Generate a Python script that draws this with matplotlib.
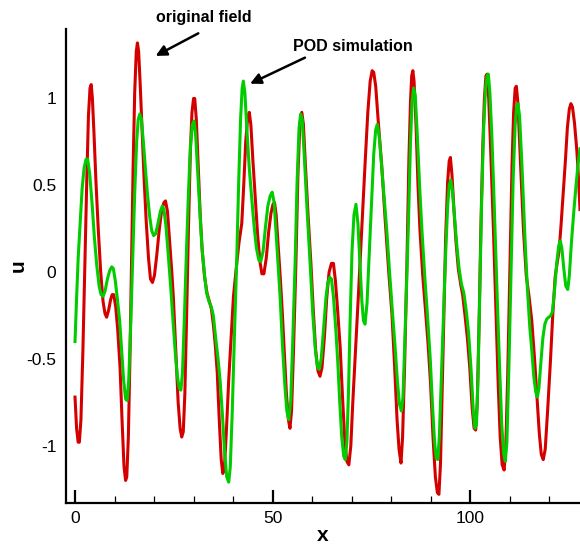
import matplotlib
matplotlib.use("Agg")
import matplotlib.pyplot as plt
from matplotlib.ticker import MultipleLocator

# original field (red)
red_x = [0.0, 0.4, 0.8, 1.1, 1.5, 2.0, 2.5, 3.0, 3.4, 3.8, 4.1, 4.4, 4.8, 5.3, 5.9, 6.5, 7.1, 7.6, 8.0,
         8.5, 9.0, 9.4, 9.8, 10.3, 10.8, 11.4, 11.9, 12.4, 12.8, 13.1, 13.5, 13.9, 14.3, 14.7, 15.1,
         15.5, 15.8, 16.1, 16.5, 17.0, 17.5, 18.0, 18.6, 19.1, 19.6, 20.1, 20.7, 21.3, 21.9, 22.5, 22.9,
         23.4, 24.0, 24.5, 24.9, 25.5, 26.1, 26.6, 27.0, 27.4, 27.8, 28.2, 28.7, 29.2, 29.6, 30.0, 30.3,
         30.7, 31.2, 31.7, 32.2, 32.8, 33.4, 34.0, 34.5, 35.0, 35.5, 36.0, 36.5, 37.0, 37.4, 37.8, 38.3,
         38.9, 39.5, 40.1, 40.8, 41.5, 42.2, 42.7, 43.2, 43.7, 44.1, 44.5, 45.0, 45.6, 46.2, 46.8, 47.3,
         47.8, 48.4, 49.0, 49.6, 50.1, 50.5, 50.9, 51.5, 52.0, 52.5, 53.0, 53.5, 54.0, 54.4, 54.8, 55.3,
         55.9, 56.4, 56.9, 57.4, 57.8, 58.3, 59.0, 59.7, 60.3, 60.9, 61.5, 62.0, 62.5, 63.1, 63.7, 64.3,
         64.9, 65.4, 65.9, 66.4, 67.1, 67.7, 68.3, 68.8, 69.3, 69.8, 70.3, 71.0, 71.7, 72.5, 73.4, 74.1,
         74.7, 75.2, 75.6, 76.1, 76.8, 77.6, 78.5, 79.4, 80.2, 80.9, 81.5, 82.0, 82.5, 82.9, 83.4, 84.0,
         84.5, 84.9, 85.2, 85.5, 85.8, 86.3, 86.8, 87.3, 88.0, 88.7, 89.4, 90.0, 90.6, 91.2, 91.7, 92.1,
         92.5, 92.9, 93.3, 93.8, 94.3, 94.7, 95.0, 95.4, 95.9, 96.4, 97.0, 97.6, 98.1, 98.7, 99.3, 99.9,
         100.5, 101.0, 101.4, 101.8, 102.3, 102.7, 103.2, 103.6, 104.0, 104.3, 104.7, 105.2, 105.9,
         106.6, 107.1, 107.6, 108.1, 108.6, 109.0, 109.5, 110.1, 110.6, 111.0, 111.4, 111.7, 112.1,
         112.7, 113.5, 114.2, 114.9, 115.6, 116.3, 116.9, 117.5, 118.0, 118.5, 119.0, 119.6, 120.3,
         120.9, 121.5, 122.0, 122.5, 123.0, 123.6, 124.1, 124.6, 125.1, 125.5, 125.9, 126.4, 127.0,
         127.4, 127.8]
red_u = [-0.72, -0.90, -0.98, -0.98, -0.85, -0.45, 0.05, 0.55, 0.90, 1.06, 1.08, 1.00, 0.80, 0.52, 0.24,
         0.00, -0.17, -0.24, -0.26, -0.22, -0.16, -0.13, -0.13, -0.20, -0.33, -0.55, -0.85, -1.12, -1.20,
         -1.18, -0.95, -0.50, 0.05, 0.60, 1.03, 1.27, 1.32, 1.27, 1.08, 0.80, 0.53, 0.30, 0.08, -0.04,
         -0.06, -0.02, 0.10, 0.24, 0.35, 0.40, 0.41, 0.35, 0.16, 0.00, -0.15, -0.45, -0.75, -0.90, -0.95,
         -0.92, -0.70, -0.30, 0.24, 0.70, 0.92, 1.00, 1.00, 0.88, 0.60, 0.32, 0.12, -0.03, -0.12, -0.17,
         -0.21, -0.30, -0.42, -0.58, -0.85, -1.08, -1.16, -1.13, -0.92, -0.62, -0.38, -0.14, 0.02, 0.17,
         0.28, 0.50, 0.75, 0.89, 0.92, 0.85, 0.65, 0.43, 0.22, 0.06, -0.01, -0.01, 0.08, 0.23, 0.34, 0.39,
         0.40, 0.33, 0.12, -0.05, -0.25, -0.48, -0.70, -0.85, -0.90, -0.80, -0.45, 0.05, 0.55, 0.85, 0.92,
         0.85, 0.62, 0.32, 0.05, -0.22, -0.45, -0.57, -0.60, -0.55, -0.38, -0.15, 0.00, 0.05, 0.05, -0.05,
         -0.20, -0.43, -0.72, -0.98, -1.09, -1.11, -1.00, -0.75, -0.45, -0.14, 0.22, 0.62, 0.92, 1.10,
         1.16, 1.15, 1.07, 0.85, 0.62, 0.30, 0.00, -0.24, -0.55, -0.85, -1.02, -1.10, -0.95, -0.55, 0.05,
         0.65, 0.98, 1.13, 1.16, 1.10, 0.85, 0.50, 0.24, -0.02, -0.22, -0.43, -0.65, -0.95, -1.18, -1.27,
         -1.28, -1.10, -0.70, -0.28, 0.20, 0.52, 0.64, 0.66, 0.56, 0.36, 0.18, 0.02, -0.07, -0.13, -0.25,
         -0.38, -0.55, -0.78, -0.90, -0.91, -0.75, -0.25, 0.24, 0.72, 1.00, 1.13, 1.14, 1.00, 0.70, 0.24,
         -0.28, -0.65, -0.95, -1.11, -1.14, -1.02, -0.60, 0.05, 0.62, 0.92, 1.06, 1.07, 0.97, 0.65, 0.24,
         -0.02, -0.14, -0.28, -0.50, -0.72, -0.93, -1.05, -1.08, -1.02, -0.80, -0.52, -0.25, -0.03, 0.05,
         0.12, 0.27, 0.47, 0.64, 0.83, 0.94, 0.97, 0.95, 0.86, 0.70, 0.55, 0.36]

# POD simulation (green)
pod_x = [0.0, 0.4, 0.8, 1.3, 1.8, 2.3, 2.8, 3.2, 3.7, 4.3, 4.9, 5.5, 6.1, 6.6, 7.1, 7.6, 8.2, 8.8, 9.3,
         9.7, 10.2, 10.7, 11.3, 11.8, 12.3, 12.8, 13.2, 13.6, 14.1, 14.6, 15.1, 15.6, 16.0, 16.4, 16.8,
         17.3, 17.8, 18.3, 18.9, 19.4, 19.9, 20.4, 21.0, 21.6, 22.1, 22.5, 23.0, 23.6, 24.2, 24.8, 25.4,
         25.9, 26.4, 26.8, 27.2, 27.7, 28.2, 28.7, 29.2, 29.7, 30.1, 30.5, 31.0, 31.6, 32.1, 32.7, 33.3,
         33.9, 34.5, 35.0, 35.6, 36.2, 36.7, 37.3, 37.9, 38.4, 38.9, 39.3, 39.8, 40.3, 40.9, 41.4, 41.9,
         42.3, 42.6, 43.0, 43.5, 44.1, 44.7, 45.3, 45.9, 46.5, 47.0, 47.6, 48.2, 48.8, 49.4, 49.9, 50.4,
         50.9, 51.4, 51.9, 52.5, 53.1, 53.6, 54.1, 54.6, 55.1, 55.7, 56.2, 56.7, 57.1, 57.5, 58.0, 58.7,
         59.5, 60.2, 60.8, 61.3, 61.8, 62.3, 62.9, 63.5, 64.0, 64.5, 64.9, 65.4, 66.0, 66.5, 67.0, 67.5,
         68.0, 68.4, 68.8, 69.2, 69.6, 70.1, 70.6, 71.1, 71.6, 72.1, 72.6, 73.0, 73.4, 73.9, 74.5, 75.1,
         75.6, 76.1, 76.5, 77.0, 77.7, 78.4, 78.9, 79.6, 80.3, 81.0, 81.6, 82.1, 82.6, 83.0, 83.5, 84.0,
         84.4, 84.9, 85.3, 85.7, 86.1, 86.6, 87.2, 87.8, 88.5, 89.2, 89.9, 90.5, 91.0, 91.4, 91.8, 92.2,
         92.7, 93.2, 93.7, 94.3, 94.7, 95.1, 95.5, 96.0, 96.6, 97.2, 97.8, 98.4, 99.0, 99.6, 100.2, 100.8,
         101.2, 101.6, 102.0, 102.5, 102.9, 103.4, 103.9, 104.3, 104.6, 105.0, 105.5, 106.0, 106.5,
         107.0, 107.5, 108.0, 108.5, 108.9, 109.3, 109.8, 110.4, 110.9, 111.4, 111.8, 112.1, 112.5,
         113.1, 113.9, 114.5, 115.1, 115.6, 116.1, 116.6, 117.0, 117.4, 117.9, 118.4, 118.9, 119.4,
         119.9, 120.4, 120.8, 121.3, 121.9, 122.4, 122.8, 123.2, 123.7, 124.2, 124.7, 125.1, 125.6,
         126.2, 126.8, 127.3, 127.8]
pod_u = [-0.40, -0.15, 0.08, 0.28, 0.48, 0.60, 0.65, 0.65, 0.57, 0.40, 0.20, 0.04, -0.08, -0.13, -0.14,
         -0.11, -0.04, 0.01, 0.03, 0.02, -0.05, -0.15, -0.28, -0.45, -0.62, -0.73, -0.74, -0.62, -0.30,
         0.08, 0.45, 0.75, 0.88, 0.91, 0.88, 0.75, 0.60, 0.46, 0.32, 0.24, 0.21, 0.22, 0.28, 0.35, 0.38,
         0.36, 0.27, 0.10, -0.08, -0.28, -0.47, -0.60, -0.67, -0.68, -0.58, -0.25, 0.12, 0.45, 0.72, 0.85,
         0.87, 0.80, 0.60, 0.35, 0.15, 0.00, -0.12, -0.17, -0.20, -0.25, -0.38, -0.50, -0.62, -0.82,
         -1.05, -1.18, -1.21, -1.12, -0.80, -0.40, 0.05, 0.50, 0.88, 1.06, 1.10, 1.03, 0.82, 0.60, 0.43,
         0.27, 0.14, 0.07, 0.06, 0.12, 0.26, 0.38, 0.44, 0.46, 0.40, 0.22, 0.03, -0.14, -0.42, -0.65,
         -0.80, -0.85, -0.74, -0.40, 0.05, 0.52, 0.83, 0.91, 0.88, 0.68, 0.37, 0.05, -0.25, -0.44, -0.54,
         -0.56, -0.50, -0.33, -0.15, -0.06, -0.03, -0.04, -0.14, -0.33, -0.52, -0.75, -0.95, -1.06, -1.08,
         -0.98, -0.70, -0.30, 0.12, 0.33, 0.39, 0.28, 0.05, -0.17, -0.28, -0.30, -0.18, 0.12, 0.43, 0.68,
         0.82, 0.85, 0.78, 0.58, 0.38, 0.24, 0.00, -0.22, -0.43, -0.63, -0.76, -0.80, -0.72, -0.38, 0.00,
         0.30, 0.75, 0.98, 1.06, 1.02, 0.80, 0.50, 0.24, -0.02, -0.25, -0.50, -0.78, -0.98, -1.07, -1.08,
         -0.95, -0.62, -0.30, 0.05, 0.38, 0.50, 0.53, 0.47, 0.33, 0.16, 0.02, -0.07, -0.12, -0.22, -0.35,
         -0.55, -0.80, -0.90, -0.88, -0.60, -0.05, 0.40, 0.82, 1.06, 1.13, 1.14, 1.03, 0.78, 0.45, 0.10,
         -0.25, -0.58, -0.88, -1.05, -1.09, -0.98, -0.55, 0.05, 0.55, 0.85, 0.96, 0.97, 0.90, 0.62, 0.18,
         -0.10, -0.32, -0.45, -0.60, -0.69, -0.72, -0.67, -0.52, -0.38, -0.30, -0.27, -0.26, -0.25, -0.23,
         -0.12, 0.05, 0.15, 0.18, 0.14, 0.02, -0.08, -0.10, -0.02, 0.16, 0.34, 0.50, 0.62, 0.71]

x_ticks = [0, 50, 100]
y_ticks = [-1, -0.5, 0, 0.5, 1]
y_ticklabels = ["-1", "-0.5", "0", "0.5", "1"]

plt.rcParams['font.family'] = ['Liberation Sans', 'DejaVu Sans']

fig = plt.figure(figsize=(5.8, 5.45), dpi=100)
ax = fig.add_axes([66 / 580, 42 / 545, 1 - 66 / 580, 474 / 545])

ax.plot(red_x, red_u, color='#d40000', lw=2.2, solid_joinstyle='round')
ax.plot(pod_x, pod_u, color='#00cc00', lw=2.2, solid_joinstyle='round')

ax.set_xlim(-2.28, 127.8)
ax.set_ylim(-1.33, 1.40)

for s in ['top', 'right']:
    ax.spines[s].set_visible(False)
for s in ['left', 'bottom']:
    ax.spines[s].set_linewidth(1.6)

ax.set_xticks(x_ticks)
ax.xaxis.set_minor_locator(MultipleLocator(10))
ax.tick_params(axis='x', which='major', direction='in', length=9.5, width=1.6, pad=6, labelsize=12.5)
ax.tick_params(axis='x', which='minor', direction='in', length=5, width=0.9)
ax.set_yticks(y_ticks)
ax.set_yticklabels(y_ticklabels)
ax.tick_params(axis='y', length=0, pad=7, labelsize=12.5)

ax.set_xlabel("x", fontsize=15, fontweight='bold', labelpad=0)
ax.set_ylabel("u", fontsize=15, fontweight='bold', labelpad=-1)

ax.text(32.5, 1.465, "original field", fontsize=11.5, fontweight='bold', ha='center', va='center',
        clip_on=False)
ax.annotate("", xy=(20.4, 1.245), xytext=(31.2, 1.375), annotation_clip=False,
            arrowprops=dict(arrowstyle='-|>', color='black', lw=1.8, mutation_scale=16,
                            shrinkA=0, shrinkB=0))
ax.text(70.2, 1.30, "POD simulation", fontsize=11.5, fontweight='bold', ha='center', va='center',
        clip_on=False)
ax.annotate("", xy=(44.3, 1.085), xytext=(58.2, 1.235), annotation_clip=False,
            arrowprops=dict(arrowstyle='-|>', color='black', lw=1.8, mutation_scale=16,
                            shrinkA=0, shrinkB=0))

fig.savefig("out.png", dpi=100)
